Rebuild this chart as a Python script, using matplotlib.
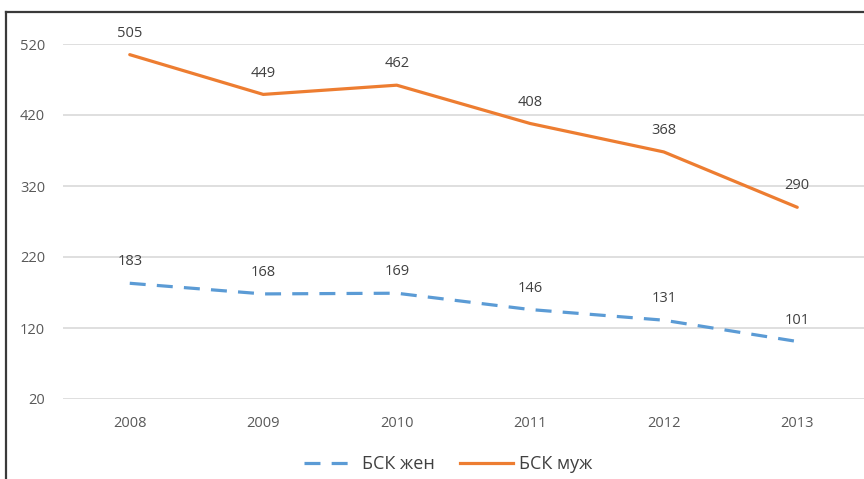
import matplotlib
matplotlib.use("Agg")
import matplotlib.pyplot as plt
from matplotlib.lines import Line2D

years = ["2008", "2009", "2010", "2011", "2012", "2013"]
bsk_women = [183, 168, 169, 146, 131, 101]
bsk_men = [505, 449, 462, 408, 368, 290]
y_ticks = [20, 120, 220, 320, 420, 520]

plt.rcParams['font.family'] = ['Open Sans', 'DejaVu Sans']

BLUE = "#5B9BD5"
ORANGE = "#ED7D31"
DASH = (0, (5, 3.5))

fig = plt.figure(figsize=(8.64, 4.79), dpi=100)
ax = fig.add_axes([63 / 864, 80 / 479, 801 / 864, 355 / 479])

x = list(range(len(years)))
ax.plot(x, bsk_women, color=BLUE, lw=2.3, ls=DASH, dash_capstyle="butt")
ax.plot(x, bsk_men, color=ORANGE, lw=2.3, solid_capstyle="round")

for series in (bsk_women, bsk_men):
    for xi, v in zip(x, series):
        ax.annotate(str(v), (xi, v), xytext=(0, 10), textcoords="offset points",
                    ha="center", va="bottom", fontsize=10.5, color="#404040",
                    annotation_clip=False)

ax.set_xlim(-0.5, len(years) - 0.5)
ax.set_ylim(20, 520)
ax.set_yticks(y_ticks)
ax.set_xticks(x)
ax.set_xticklabels(years)
ax.tick_params(axis="both", length=0, labelsize=10.5, colors="#595959")
ax.tick_params(axis="y", pad=13)
ax.tick_params(axis="x", pad=12)
ax.grid(axis="y", color="#D9D9D9", lw=1.2)
ax.set_axisbelow(True)
for s in ax.spines.values():
    s.set_visible(False)

handles = [Line2D([], [], color=BLUE, lw=2.3, ls=DASH),
           Line2D([], [], color=ORANGE, lw=2.3)]
fig.legend(handles, ["БСК жен", "БСК муж"], loc="center", ncol=2,
           bbox_to_anchor=(448 / 864, 1 - 464 / 479), frameon=False,
           fontsize=13, labelcolor="#404040", handlelength=2.9,
           columnspacing=1.4, handletextpad=0.35)

# frame lines at the top and left edge
fig.add_artist(Line2D([6 / 864, 1], [1 - 12 / 479, 1 - 12 / 479],
                      color="#3a3a3a", lw=1.6, transform=fig.transFigure))
fig.add_artist(Line2D([6 / 864, 6 / 864], [0, 1 - 12 / 479],
                      color="#3a3a3a", lw=1.6, transform=fig.transFigure))

fig.savefig("out.png", dpi=100)
